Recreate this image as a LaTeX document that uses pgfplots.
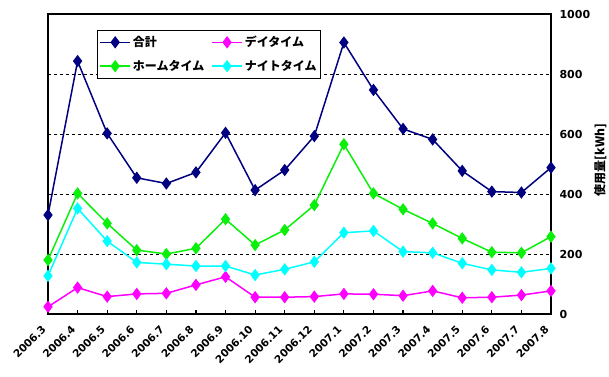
\documentclass[border=0pt]{standalone}
\usepackage{pgfplots}
\pgfplotsset{compat=1.18}
\usepackage{pgfplotstable}
\usepackage{fontspec}
\setmainfont{DejaVu Sans}
\newfontfamily\jp{Noto Sans CJK JP}
\definecolor{cnavy}{RGB}{0,0,128}
\definecolor{cmag}{RGB}{255,0,255}
\definecolor{cgreen}{RGB}{10,240,10}
\definecolor{ccyan}{RGB}{0,255,255}
\pgfplotstableread{
x total day home night
0  330 24  180 127
1  843 88  402 352
2  602 58  302 243
3  454 67  213 172
4  435 69  200 166
5  472 97  219 160
6  604 124 316 160
7  413 56  230 130
8  480 56  280 149
9  593 58  363 174
10 905 67  566 271
11 747 66  402 277
12 617 61  349 208
13 582 77  302 204
14 477 54  252 169
15 408 56  206 147
16 405 63  204 139
17 488 77  258 152
}\data
\begin{document}
\begin{tikzpicture}
\useasboundingbox (-48pt,-62pt) rectangle (561pt,314pt);
\begin{axis}[
  at={(0pt,0pt)}, anchor=south west,
  scale only axis,
  width=503pt, height=300pt,
  xmin=0, xmax=17, ymin=0, ymax=1000,
  axis line style={line width=2pt},
  xtick={0,...,17},
  xticklabels={2006.3,2006.4,2006.5,2006.6,2006.7,2006.8,2006.9,2006.10,2006.11,2006.12,2007.1,2007.2,2007.3,2007.4,2007.5,2007.6,2007.7,2007.8},
  xticklabel style={font=\fontsize{10.5}{12}\selectfont\bfseries, xshift=-7pt, yshift=-9pt, rotate=45, anchor=north east, inner sep=1pt},
  xtick style={black, line width=1.2pt},
  xtick pos=bottom,
  tick align=inside,
  major tick length=4pt,
  ytick={0,200,...,1000},
  yticklabel pos=right,
  ytick style={draw=none},
  yticklabel style={font=\fontsize{11}{13}\selectfont\bfseries, anchor=west, xshift=5pt, /pgf/number format/1000 sep={}},
  /pgf/number format/assume math mode=true,
  ymajorgrids,
  grid style={black, dashed, line width=0.8pt},
  ylabel={\jp\bfseries 使用量[kWh]},
  ylabel style={font=\fontsize{12}{14}\selectfont, inner sep=0pt, at={(axis description cs:1.098,0.513)}, anchor=center},
  legend columns=2,
  legend cell align=left,
  legend style={at={(axis description cs:0.0975,0.947)}, anchor=north west, draw=black, line width=0.8pt, fill=white,
    font=\fontsize{12}{14}\selectfont\jp\bfseries, inner xsep=2pt, inner ysep=4pt, row sep=8pt,
    /tikz/every even column/.append style={column sep=5pt}},
  legend image code/.code={\draw[mark repeat=2,mark phase=2] plot coordinates {(0pt,0pt) (15pt,0pt) (30pt,0pt)};},
  every axis plot/.append style={line width=1.5pt, mark=diamond*, mark size=5pt, mark options={solid, line width=0.5pt}},
]
\addplot[cnavy, mark options={fill=cnavy}] table[x=x,y=total]{\data};
\addlegendentry{合計}
\addplot[cmag, mark options={fill=cmag}] table[x=x,y=day]{\data};
\addlegendentry{デイタイム}
\addplot[cgreen, mark options={fill=cgreen}] table[x=x,y=home]{\data};
\addlegendentry{ホームタイム}
\addplot[ccyan, mark options={fill=ccyan}] table[x=x,y=night]{\data};
\addlegendentry{ナイトタイム}
\end{axis}
\end{tikzpicture}
\end{document}
